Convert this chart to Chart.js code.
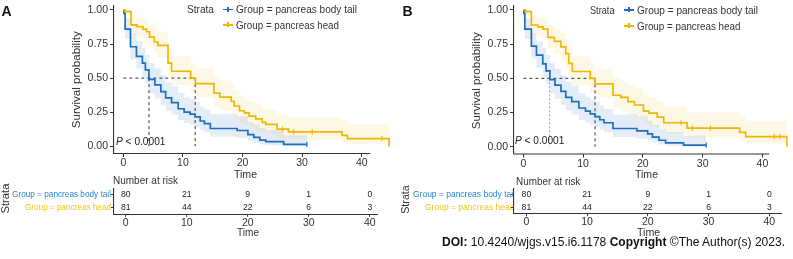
<!DOCTYPE html>
<html><head><meta charset="utf-8">
<script src="https://cdn.jsdelivr.net/npm/chart.js@4.4.1/dist/chart.umd.min.js"></script>
<style>
html,body{margin:0;padding:0;background:#fff;}
#wrap{position:relative;width:793px;height:259px;overflow:hidden;background:#fff;font-family:"Liberation Sans",Arial,sans-serif;color:#222;}
#wrap canvas{position:absolute;}
.t{position:absolute;white-space:nowrap;line-height:1;}
.clip{position:absolute;overflow:hidden;}
</style></head><body>
<div id="wrap">
 <canvas id="kmA" width="400" height="175" style="left:0px;top:0px"></canvas>
 <canvas id="kmB" width="393" height="175" style="left:400px;top:0px"></canvas>
 <canvas id="rkA" width="400" height="89" style="left:0px;top:170px"></canvas>
 <canvas id="rkB" width="393" height="89" style="left:400px;top:170px"></canvas>
</div>
<script>
// ---------- data ----------
const timeTicks = [0, 10, 20, 30, 40];
const survTicks = [0, 0.25, 0.5, 0.75, 1];
const strataLabels = ['Group = pancreas body tail', 'Group = pancreas head'];
const riskTimes = [0, 10, 20, 30, 40];
const riskBodyTail = [80, 21, 9, 1, 0];
const riskHead = [81, 44, 22, 6, 3];

// Panel A - body tail
const aTailTime  = [0,0.1,0.3,1.2,2.2,3.2,3.7,4.3,5.3,6.3,7.1,8.1,9.2,10.2,11.2,12.05,12.9,13.6,14.6,19.1,20.9,21.9,22.9,23.9,26.9,30.8];
const aTailSurv  = [1,0.975,0.86,0.73,0.66,0.61,0.56,0.49,0.45,0.40,0.355,0.32,0.275,0.25,0.235,0.215,0.185,0.165,0.13,0.115,0.085,0.065,0.045,0.033,0.013,0.013];
const aTailLower = [1,0.94,0.79,0.64,0.57,0.51,0.46,0.39,0.35,0.30,0.26,0.23,0.19,0.17,0.155,0.14,0.115,0.10,0.07,0.06,0.04,0.025,0.013,0.007,0.002,0.002];
const aTailUpper = [1,1,0.94,0.83,0.77,0.72,0.67,0.61,0.57,0.52,0.47,0.44,0.39,0.36,0.345,0.325,0.29,0.27,0.235,0.22,0.18,0.16,0.135,0.12,0.08,0.08];
const aTailCensorTime = [30.8];
const aTailCensorSurv = [0.013];
// Panel A - head
const aHeadTime  = [0,0.3,1.3,2.3,3.3,3.9,4.4,5.2,5.8,7.5,8.1,11.3,12.1,15.2,16.2,18.1,18.6,19.5,20.3,21.1,22.2,23.3,23.9,25.8,27.7,36.7,37.6,44.6];
const aHeadSurv  = [1,0.988,0.89,0.877,0.86,0.84,0.80,0.765,0.74,0.61,0.55,0.50,0.46,0.39,0.36,0.33,0.295,0.26,0.245,0.22,0.20,0.175,0.16,0.125,0.105,0.08,0.056,0];
const aHeadLower = [1,0.96,0.82,0.81,0.79,0.76,0.72,0.68,0.65,0.51,0.45,0.40,0.36,0.29,0.26,0.23,0.20,0.17,0.155,0.135,0.115,0.095,0.085,0.06,0.045,0.03,0.015,0.015];
const aHeadUpper = [1,1,0.96,0.95,0.94,0.92,0.89,0.86,0.84,0.72,0.66,0.61,0.57,0.51,0.48,0.45,0.41,0.37,0.355,0.33,0.31,0.28,0.265,0.23,0.21,0.19,0.16,0.16];
const aHeadCensorTime = [26.7, 28.6, 31.7, 43.4];
const aHeadCensorSurv = [0.125, 0.105, 0.105, 0.056];
const aMedianTail = 4.3;
const aMedianHead = 12.05;

// Panel B - body tail
const bTailTime  = [0,0.1,0.25,1.35,2.2,3.25,3.8,4.45,5.3,6.3,7.1,8.1,9.3,10.4,11.2,12.0,12.8,13.5,15.0,19.0,20.8,21.6,22.7,23.8,26.8,30.6];
const bTailSurv  = [1,0.975,0.86,0.735,0.67,0.605,0.555,0.49,0.45,0.405,0.36,0.33,0.283,0.26,0.24,0.22,0.197,0.175,0.133,0.116,0.093,0.07,0.047,0.028,0.012,0.012];
const bTailLower = [1,0.94,0.79,0.645,0.58,0.51,0.46,0.39,0.35,0.305,0.265,0.235,0.195,0.175,0.16,0.145,0.125,0.105,0.07,0.06,0.045,0.03,0.015,0.006,0.002,0.002];
const bTailUpper = [1,1,0.94,0.83,0.77,0.72,0.67,0.61,0.57,0.52,0.475,0.445,0.39,0.365,0.345,0.325,0.30,0.275,0.235,0.22,0.19,0.16,0.13,0.11,0.08,0.08];
const bTailCensorTime = [30.6];
const bTailCensorSurv = [0.012];
// Panel B - head
const bHeadTime  = [0,0.4,1.35,2.4,3.3,4.1,5.2,6.3,7.1,7.6,8.2,11.2,12.0,15.0,16.3,17.5,18.6,20.1,21.0,22.4,23.5,27.4,36.2,37.2,44.1];
const bHeadSurv  = [1,0.988,0.89,0.877,0.86,0.80,0.77,0.73,0.68,0.61,0.55,0.50,0.46,0.376,0.36,0.33,0.305,0.26,0.245,0.216,0.175,0.135,0.105,0.074,0];
const bHeadLower = [1,0.96,0.82,0.81,0.79,0.72,0.68,0.64,0.58,0.51,0.45,0.40,0.36,0.28,0.26,0.23,0.21,0.17,0.155,0.13,0.095,0.065,0.045,0.025,0.025];
const bHeadUpper = [1,1,0.96,0.95,0.94,0.89,0.86,0.83,0.79,0.72,0.66,0.61,0.57,0.50,0.48,0.45,0.43,0.38,0.36,0.33,0.29,0.25,0.22,0.19,0.19];
const bHeadCensorTime = [26.4, 28.3, 31.3, 42.0, 42.9];
const bHeadCensorSurv = [0.175, 0.135, 0.135, 0.074, 0.074];
const bMedianTail = 4.4;
const bMedianHead = 12.0;

// ---------- styling ----------
const BLUE = '#1F6EBE', YELLOW = '#EFB800';
const BLUE_TXT = '#2A86CF', YELLOW_TXT = '#F2C612';
const BLUE_BAND = 'rgba(31,110,190,0.12)', YELLOW_BAND = 'rgba(239,184,0,0.10)';
const AXIS = '#333';
Chart.defaults.font.family = '"Liberation Sans", Arial, sans-serif';
Chart.defaults.color = '#333';

const pts = (t, v) => t.map((x, i) => ({x: x, y: v[i]}));

const axisLinePlugin = {
  id: 'axisLine',
  afterDraw(chart) {
    const end = chart.options.axisEnd;
    if (end === undefined) return;
    const ctx = chart.ctx, a = chart.chartArea, xs = chart.scales.x;
    ctx.save();
    ctx.strokeStyle = AXIS; ctx.lineWidth = 1.1;
    ctx.beginPath();
    ctx.moveTo(a.left - 0.5, a.bottom + 0.5);
    ctx.lineTo(xs.getPixelForValue(end), a.bottom + 0.5);
    ctx.stroke();
    ctx.restore();
  }
};

const riskTextPlugin = {
  id: 'riskText',
  afterDatasetsDraw(chart) {
    const ctx = chart.ctx;
    ctx.save();
    ctx.font = '8.6px "Liberation Sans", Arial, sans-serif';
    ctx.fillStyle = '#222'; ctx.textAlign = 'center'; ctx.textBaseline = 'middle';
    chart.data.datasets.forEach((ds, di) => {
      if (!ds.riskValues) return;
      chart.getDatasetMeta(di).data.forEach((el, i) => {
        ctx.fillText(String(ds.riskValues[i]), el.x, el.y);
      });
    });
    ctx.restore();
  }
};

function kmConfig(p) {
  // 'before' in Chart.js = horizontal first, then vertical (survival step function)
  const band = {showLine: true, stepped: 'before', pointRadius: 0, borderWidth: 0, borderColor: 'rgba(0,0,0,0)', order: 6};
  const med = {showLine: true, pointRadius: 0, borderColor: AXIS, borderWidth: 1, borderDash: [3, 3], order: 4};
  const curve = {showLine: true, stepped: 'before', pointRadius: 0, borderWidth: 1.7, fill: false};
  const cens = {showLine: false, pointStyle: 'line', rotation: 90, pointRadius: 2.6, borderWidth: 1.2, order: 1};
  return {
    type: 'scatter',
    data: {datasets: [
      Object.assign({data: pts(p.tailTime, p.tailLo)}, band),
      Object.assign({data: pts(p.tailTime, p.tailUp), fill: '-1', backgroundColor: BLUE_BAND}, band),
      Object.assign({data: pts(p.headTime, p.headLo)}, band),
      Object.assign({data: pts(p.headTime, p.headUp), fill: '-1', backgroundColor: YELLOW_BAND}, band),
      Object.assign({data: [{x: 0, y: 0.5}, {x: p.medHead, y: 0.5}]}, med),
      Object.assign({data: [{x: p.medTail, y: 0.5}, {x: p.medTail, y: 0}]}, med, p.tailMedStyle || {}),
      Object.assign({data: [{x: p.medHead, y: 0.5}, {x: p.medHead, y: 0}]}, med),
      Object.assign({data: pts(p.tailTime, p.tailSurv), borderColor: BLUE, order: 3}, curve),
      Object.assign({data: pts(p.headTime, p.headSurv), borderColor: YELLOW, order: 2}, curve),
      Object.assign({data: pts(p.tailCT, p.tailCS), borderColor: BLUE}, cens),
      Object.assign({data: pts(p.headCT, p.headCS), borderColor: YELLOW}, cens)
    ]},
    options: {
      responsive: false, animation: false, devicePixelRatio: 1, events: [],
      axisEnd: p.axisEnd,
      layout: {padding: {left: 0, top: 0, right: 0, bottom: 0}},
      plugins: {legend: {display: false}, tooltip: {enabled: false}},
      scales: {
        x: {
          type: 'linear', min: p.xmin, max: p.xmax,
          afterBuildTicks: s => { s.ticks = timeTicks.map(v => ({value: v})); },
          afterFit: s => { s.height = p.xh; s.paddingLeft = 0; s.paddingRight = 0; },
          ticks: {autoSkip: false, maxRotation: 0, padding: 0, font: {size: 10.5}, color: '#333', callback: v => String(v)},
          grid: {drawOnChartArea: false, drawTicks: true, tickLength: 4, color: AXIS, tickColor: AXIS},
          border: {display: false}
        },
        y: {
          type: 'linear', min: -0.05, max: 1.035,
          afterBuildTicks: s => { s.ticks = survTicks.map(v => ({value: v})); },
          afterFit: s => { s.width = 114; s.paddingTop = 0; s.paddingBottom = 0; },
          ticks: {autoSkip: false, padding: 2, font: {size: 10.5}, color: '#333', callback: v => Number(v).toFixed(2)},
          grid: {drawOnChartArea: false, drawTicks: true, tickLength: 4, color: AXIS, tickColor: AXIS},
          border: {display: true, color: AXIS, width: 1.1}
        }
      }
    },
    plugins: [axisLinePlugin]
  };
}

function riskConfig(p) {
  return {
    type: 'scatter',
    data: {datasets: [
      {data: riskTimes.map(t => ({x: t, y: strataLabels[0]})), riskValues: riskBodyTail, pointRadius: 0},
      {data: riskTimes.map(t => ({x: t, y: strataLabels[1]})), riskValues: riskHead, pointRadius: 0}
    ]},
    options: {
      responsive: false, animation: false, devicePixelRatio: 1, events: [],
      layout: {padding: {left: 0, top: p.top, right: p.pr, bottom: 0}},
      plugins: {legend: {display: false}, tooltip: {enabled: false}},
      scales: {
        x: {
          type: 'linear', min: p.xmin, max: p.xmax,
          afterBuildTicks: s => { s.ticks = riskTimes.map(v => ({value: v})); },
          afterFit: s => { s.height = p.xh; s.paddingLeft = 0; s.paddingRight = 0; },
          ticks: {autoSkip: false, maxRotation: 0, padding: 0, font: {size: 10.5}, color: '#333', callback: v => String(v)},
          grid: {drawOnChartArea: false, drawTicks: true, tickLength: 2.5, color: AXIS, tickColor: AXIS},
          border: {display: true, color: AXIS, width: 1.1}
        },
        y: {
          type: 'category', labels: strataLabels, offset: true,
          afterFit: s => { s.width = 114; s.paddingTop = 0; s.paddingBottom = 0; },
          ticks: {display: false},
          grid: {drawOnChartArea: false, drawTicks: true, tickLength: 3, color: AXIS, tickColor: AXIS},
          border: {display: true, color: AXIS, width: 1.1}
        }
      }
    },
    plugins: [riskTextPlugin]
  };
}

new Chart(document.getElementById('kmA'), kmConfig({
  tailTime: aTailTime, tailSurv: aTailSurv, tailLo: aTailLower, tailUp: aTailUpper,
  headTime: aHeadTime, headSurv: aHeadSurv, headLo: aHeadLower, headUp: aHeadUpper,
  tailCT: aTailCensorTime, tailCS: aTailCensorSurv, headCT: aHeadCensorTime, headCS: aHeadCensorSurv,
  medTail: aMedianTail, medHead: aMedianHead,
  xmin: -1.565, xmax: 45.55, axisEnd: 41.43, xh: 22
}));
new Chart(document.getElementById('kmB'), kmConfig({
  tailTime: bTailTime, tailSurv: bTailSurv, tailLo: bTailLower, tailUp: bTailUpper,
  headTime: bHeadTime, headSurv: bHeadSurv, headLo: bHeadLower, headUp: bHeadUpper,
  tailCT: bTailCensorTime, tailCS: bTailCensorSurv, headCT: bHeadCensorTime, headCS: bHeadCensorSurv,
  medTail: bMedianTail, medHead: bMedianHead,
  tailMedStyle: {borderColor: '#888', borderWidth: 0.8, borderDash: [2, 2]},
  xmin: -1.56, xmax: 44.25, axisEnd: 41.13, xh: 21.5
}));
new Chart(document.getElementById('rkA'), riskConfig({xmin: -1.92, xmax: 41.3, top: 18.3, pr: 22.3, xh: 44.7}));
new Chart(document.getElementById('rkB'), riskConfig({xmin: -2.04, xmax: 42.04, top: 18.3, pr: 11.3, xh: 45.3}));

// ---------- text ----------
const wrap = document.getElementById('wrap');
function txt(html, o) {
  const d = document.createElement('div');
  d.className = 't'; d.innerHTML = html;
  d.style.fontSize = o.size + 'px';
  if (o.color) d.style.color = o.color;
  if (o.bold) d.style.fontWeight = 'bold';
  const parent = o.parent || wrap;
  parent.appendChild(d);
  const r = d.getBoundingClientRect();
  const w = r.width, h = r.height;
  const sx = o.width ? o.width / w : 1;
  const ox = o.ox || 0, oy = o.oy || 0;
  if (o.rotate) {
    d.style.left = (o.cx - w / 2 - ox) + 'px';
    d.style.top = (o.cy - h / 2 - oy) + 'px';
    d.style.transformOrigin = '50% 50%';
    d.style.transform = 'rotate(-90deg) scaleX(' + sx + ')';
  } else {
    let left = o.x;
    if (o.anchor === 'center') left = o.x - w * sx / 2;
    else if (o.anchor === 'right') left = o.x - w * sx;
    d.style.left = (left - ox) + 'px';
    d.style.top = (o.cy - h / 2 - oy) + 'px';
    d.style.transformOrigin = '0 50%';
    d.style.transform = 'scaleX(' + sx + ')';
  }
  return d;
}
function key(x1, x2, cy, color) {
  const l = document.createElement('div');
  l.style.cssText = 'position:absolute;left:' + x1 + 'px;top:' + (cy - 0.8) + 'px;width:' + (x2 - x1) + 'px;height:1.6px;background:' + color;
  const t = document.createElement('div');
  t.style.cssText = 'position:absolute;left:' + ((x1 + x2) / 2 - 0.6) + 'px;top:' + (cy - 3) + 'px;width:1.2px;height:5px;background:' + color;
  wrap.appendChild(l); wrap.appendChild(t);
}

// panel letters
txt('A', {x: 1.5, cy: 10.5, size: 14, bold: true, color: '#111'});
txt('B', {x: 402.5, cy: 10.5, size: 14, bold: true, color: '#111'});

// panel A KM texts
txt('Survival probability', {rotate: true, cx: 76.7, cy: 80, size: 11.5, width: 97, color: '#333'});
txt('Strata', {x: 187, cy: 9.5, size: 10.5, width: 27, color: '#333'});
key(223, 233, 9.5, BLUE);
txt(strataLabels[0], {x: 236, cy: 9.5, size: 10.5, width: 121, color: '#333'});
key(223, 233, 25, YELLOW);
txt(strataLabels[1], {x: 236, cy: 25, size: 10.5, width: 103, color: '#333'});
txt('<i>P</i> &lt; 0.0001', {x: 115.5, cy: 141.5, size: 11, width: 49.5, color: '#222'});
txt('Time', {x: 245, anchor: 'center', cy: 174.3, size: 11.5, width: 23, color: '#333'});

// panel B KM texts
txt('Survival probability', {rotate: true, cx: 476.7, cy: 81, size: 11.5, width: 97, color: '#333'});
txt('Strata', {x: 590, cy: 10, size: 10.5, width: 24.5, color: '#333'});
key(624, 634, 10, BLUE);
txt(strataLabels[0], {x: 637.3, cy: 10, size: 10.5, width: 121, color: '#333'});
key(624, 634, 26, YELLOW);
txt(strataLabels[1], {x: 637.3, cy: 26, size: 10.5, width: 103.4, color: '#333'});
txt('<i>P</i> &lt; 0.0001', {x: 515, cy: 140, size: 11, width: 49.3, color: '#222'});
txt('Time', {x: 646, anchor: 'center', cy: 174.5, size: 11.5, width: 23, color: '#333'});

// risk table A
txt('Number at risk', {x: 113.3, cy: 180, size: 10.5, width: 65, color: '#333'});
txt('Strata', {rotate: true, cx: 5.6, cy: 198, size: 11, width: 30, color: '#333'});
txt(strataLabels[0], {x: 110.7, anchor: 'right', cy: 194, size: 9.5, width: 99, color: BLUE_TXT});
txt(strataLabels[1], {x: 110.7, anchor: 'right', cy: 207, size: 9.5, width: 86, color: YELLOW_TXT});
txt('Time', {x: 248, anchor: 'center', cy: 232.5, size: 11.5, width: 22, color: '#333'});

// risk table B
txt('Number at risk', {x: 515.7, cy: 181, size: 10.5, width: 64.3, color: '#333'});
txt('Strata', {rotate: true, cx: 405.8, cy: 199, size: 11, width: 28.5, color: '#333'});
const clipB = document.createElement('div');
clipB.className = 'clip';
clipB.style.cssText = 'left:400px;top:170px;width:113.4px;height:60px;';
wrap.appendChild(clipB);
txt(strataLabels[0], {parent: clipB, ox: 400, oy: 170, x: 514.8, anchor: 'right', cy: 194, size: 9.5, width: 102, color: BLUE_TXT});
txt(strataLabels[1], {parent: clipB, ox: 400, oy: 170, x: 514.8, anchor: 'right', cy: 206.7, size: 9.5, width: 89.5, color: YELLOW_TXT});
txt('Time', {x: 649, anchor: 'center', cy: 232.5, size: 11.5, width: 23.3, color: '#333'});

// footer
txt('<b>DOI:</b> 10.4240/wjgs.v15.i6.1178 <b>Copyright</b> ©The Author(s) 2023.', {x: 441.7, cy: 241.7, size: 12, width: 343, color: '#111'});
</script>
</body></html>
